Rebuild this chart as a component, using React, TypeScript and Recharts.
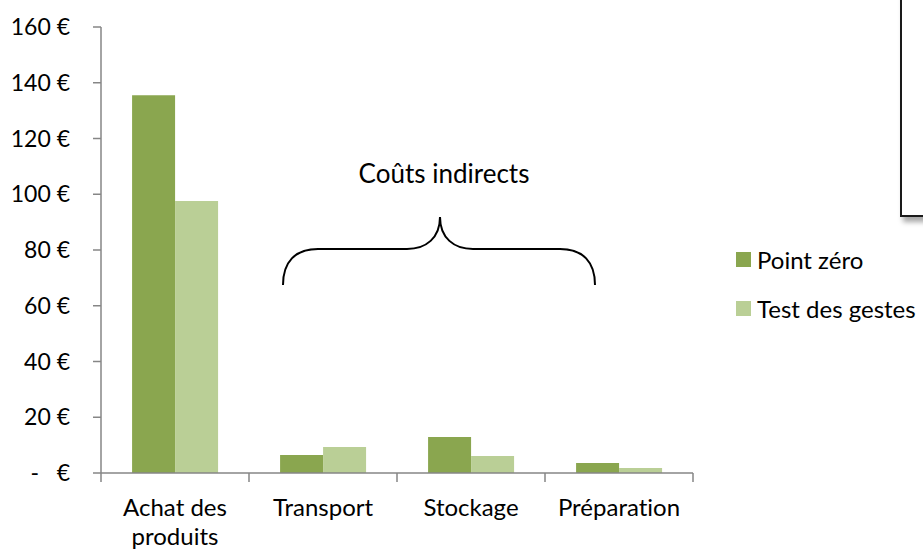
import React from 'react';
import { BarChart, Bar, XAxis, YAxis } from 'recharts';

const categories = ['Achat des produits', 'Transport', 'Stockage', 'Préparation'];
const pointZero = [135.5, 6.5, 12.9, 3.6];
const testGestes = [97.6, 9.3, 6.1, 1.8];
const yTicks = [0, 20, 40, 60, 80, 100, 120, 140, 160];

const series = [
  { key: 'pointZero', name: 'Point zéro', color: '#8AA64F' },
  { key: 'testGestes', name: 'Test des gestes', color: '#BACF96' },
];

const data = categories.map((name, i) => ({
  name,
  pointZero: pointZero[i],
  testGestes: testGestes[i],
}));

const FONT = 'Lato, "Open Sans", sans-serif';
const AXIS = '#868686';

const euro = (v: number) => (v === 0 ? '-\u00A0\u00A0\u00A0€' : `${v} €`);

// greedy word wrap, ~12 characters per line like Excel does at this width
const wrap = (label: string, max = 12) => {
  const lines: string[] = [];
  let cur = '';
  label.split(' ').forEach((w) => {
    const next = cur ? `${cur} ${w}` : w;
    if (next.length > max && cur) {
      lines.push(cur);
      cur = w;
    } else {
      cur = next;
    }
  });
  if (cur) lines.push(cur);
  return lines;
};

// category labels + tick marks at the category boundaries (Excel style)
const CategoryTick = (props: any) => {
  const { x, y, payload, index, visibleTicksCount } = props;
  const half = payload && payload.offset ? payload.offset : 74;
  const axisY = y - 26;
  return (
    <g>
      <line x1={x - half} x2={x - half} y1={axisY} y2={axisY + 9} stroke={AXIS} strokeWidth={1.5} />
      {index === visibleTicksCount - 1 && (
        <line x1={x + half} x2={x + half} y1={axisY} y2={axisY + 9} stroke={AXIS} strokeWidth={1.5} />
      )}
      <text
        x={x}
        y={y + 17}
        textAnchor="middle"
        fill="#000"
        style={{ fontFamily: FONT, fontSize: 24, fontVariantLigatures: 'none' }}
      >
        {wrap(String(payload.value)).map((line, i) => (
          <tspan key={i} x={x} dy={i === 0 ? 0 : 29}>
            {line}
          </tspan>
        ))}
      </text>
    </g>
  );
};

export default function App() {
  return (
    <div
      style={{
        position: 'absolute',
        left: 0,
        top: 0,
        width: 923,
        height: 551,
        overflow: 'hidden',
        background: '#fff',
        fontFamily: FONT,
        fontVariantLigatures: 'none',
      }}
    >
      <BarChart
        width={923}
        height={551}
        data={data}
        margin={{ top: 27, right: 230, left: 0, bottom: 0 }}
        barCategoryGap="21%"
        barGap={0}
      >
        <XAxis
          dataKey="name"
          height={78}
          interval={0}
          axisLine={{ stroke: AXIS, strokeWidth: 1.5 }}
          tickLine={false}
          tickSize={9}
          tickMargin={17}
          tick={<CategoryTick />}
        />
        <YAxis
          width={101}
          domain={[0, 160]}
          ticks={yTicks}
          interval={0}
          tickFormatter={euro}
          axisLine={{ stroke: AXIS, strokeWidth: 1.5 }}
          tickLine={{ stroke: AXIS, strokeWidth: 1.5 }}
          tickSize={8}
          tickMargin={23}
          tick={{ fill: '#000', fontSize: 23, fontFamily: FONT }}
        />
        {series.map((s) => (
          <Bar key={s.key} dataKey={s.key} name={s.name} fill={s.color} isAnimationActive={false} />
        ))}
      </BarChart>

      {/* brace annotation over the indirect costs */}
      <svg
        width={923}
        height={551}
        style={{ position: 'absolute', left: 0, top: 0, pointerEvents: 'none' }}
      >
        <text x={444} y={183} textAnchor="middle" fontSize={26} fontFamily={FONT} fill="#000">
          Coûts indirects
        </text>
        <path
          d="M 283 285 C 283 262, 295 249, 318 249 L 407 249 C 426 249, 440 238, 440 217 C 440 238, 454 249, 473 249 L 560 249 C 583 249, 595 262, 595 285"
          fill="none"
          stroke="#000"
          strokeWidth={2}
        />
      </svg>

      {/* cut-off text box in the top right corner */}
      <div
        style={{
          position: 'absolute',
          left: 900,
          top: -10,
          width: 60,
          height: 223,
          border: '2px solid #1a1a1a',
          boxShadow: '3px 5px 5px rgba(0,0,0,0.35)',
          background: '#fff',
        }}
      />

      {/* legend */}
      {series.map((s, i) => (
        <div
          key={s.key}
          style={{
            position: 'absolute',
            left: 736,
            top: 244 + i * 49,
            height: 30,
            display: 'flex',
            alignItems: 'center',
            fontSize: 24,
            color: '#000',
            whiteSpace: 'nowrap',
          }}
        >
          <span style={{ width: 15, height: 15, background: s.color, marginRight: 6, display: 'inline-block' }} />
          <span>{s.name}</span>
        </div>
      ))}
    </div>
  );
}
